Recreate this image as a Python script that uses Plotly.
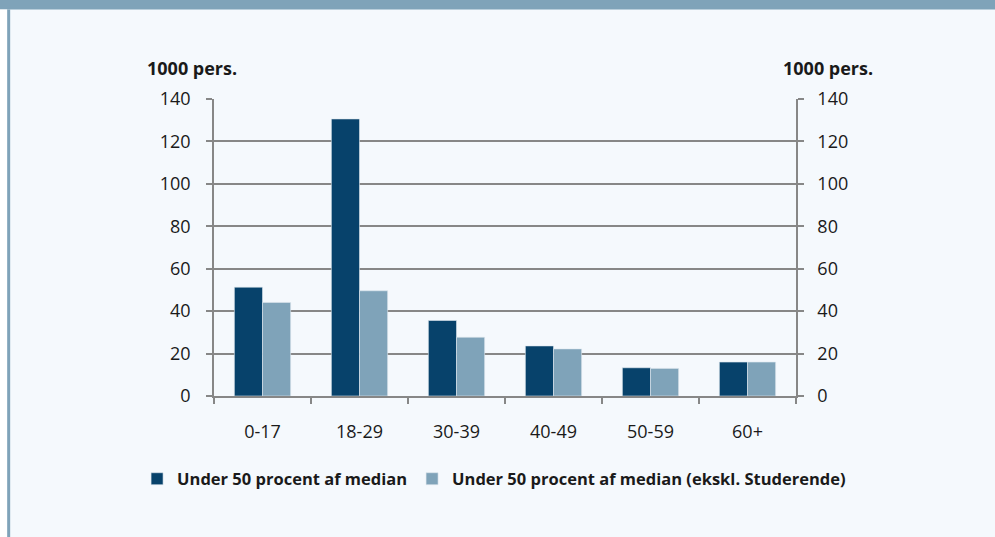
import plotly.graph_objects as go

age_groups = ["0-17", "18-29", "30-39", "40-49", "50-59", "60+"]
under_50 = [51.3, 130.6, 35.6, 23.6, 13.3, 16.0]
under_50_excl_students = [44.1, 49.6, 27.7, 22.2, 13.0, 16.0]
tick_vals = [0, 20, 40, 60, 80, 100, 120, 140]

dark = "#07426b"
light = "#7fa3b9"
grid = "#878787"
bg = "#f5f9fd"
font = "Open Sans"
ink = "#1a1a1a"

# plot area in pixels, used to place things in paper coords
L, R, T, B = 214, 796.5, 99, 396
W, H = R - L, B - T


def px(x):
    return (x - L) / W


def py(y):
    return (B - y) / H


fig = go.Figure()
fig.add_trace(go.Bar(x=age_groups, y=under_50, name="Under 50 procent af median",
                     marker=dict(color=dark, line=dict(color="#dfe8ef", width=0.6))))
fig.add_trace(go.Bar(x=age_groups, y=under_50_excl_students,
                     name="Under 50 procent af median (ekskl. Studerende)",
                     marker=dict(color=light, line=dict(color="#dfe8ef", width=0.6))))
# invisible trace to drive the right-hand axis
fig.add_trace(go.Scatter(x=age_groups, y=under_50, yaxis="y2", mode="markers",
                         marker=dict(opacity=0), showlegend=False, hoverinfo="skip"))

axis_common = dict(range=[0, 140], tickvals=tick_vals, showline=True, linecolor=grid,
                   linewidth=1.5, ticks="outside", ticklen=6, tickcolor=grid, tickwidth=1.5,
                   tickfont=dict(size=18, color=ink, family=font))

fig.update_layout(
    width=995, height=537,
    margin=dict(l=L, r=995 - R, t=T, b=537 - B),
    paper_bgcolor=bg, plot_bgcolor=bg,
    barmode="group", bargap=0.42, bargroupgap=0,
    font=dict(family=font, color=ink),
    xaxis=dict(type="category", showline=True, linecolor=grid, linewidth=1.5,
               ticks="outside", tickson="boundaries", ticklen=6, tickcolor=grid,
               tickwidth=1.5, ticklabelstandoff=19,
               tickfont=dict(size=18, color=ink, family=font)),
    yaxis=dict(showgrid=True, gridcolor=grid, gridwidth=1.5, zeroline=False,
               ticklabelstandoff=12, **axis_common),
    yaxis2=dict(overlaying="y", side="right", showgrid=False, zeroline=False,
                ticklabelstandoff=10, **axis_common),
    legend=dict(orientation="h", x=px(137), xanchor="left", y=py(479), yanchor="middle",
                font=dict(size=16.5, family=font, color=ink, weight="bold"),
                itemwidth=30, tracegroupgap=0, bgcolor="rgba(0,0,0,0)"),
    showlegend=True,
)

for xc in [192, 828.5]:
    fig.add_annotation(x=px(xc), y=py(68), xref="paper", yref="paper", text="<b>1000 pers.</b>",
                       showarrow=False, xanchor="center", yanchor="middle",
                       font=dict(size=18, family=font, color=ink))

# frame: top band and left border
fig.add_shape(type="rect", xref="paper", yref="paper", x0=px(-5), x1=px(1000),
              y0=py(9.5), y1=py(-5), fillcolor=light, line_width=0, layer="below")
fig.add_shape(type="rect", xref="paper", yref="paper", x0=px(-5), x1=px(7),
              y0=py(545), y1=py(9.5), fillcolor="white", line_width=0, layer="below")
fig.add_shape(type="rect", xref="paper", yref="paper", x0=px(7), x1=px(10),
              y0=py(545), y1=py(9.5), fillcolor=light, line_width=0, layer="below")

fig.write_html("out.html", config={"displayModeBar": False},
               post_script="document.body.style.margin='0';document.body.style.overflow='hidden';")
